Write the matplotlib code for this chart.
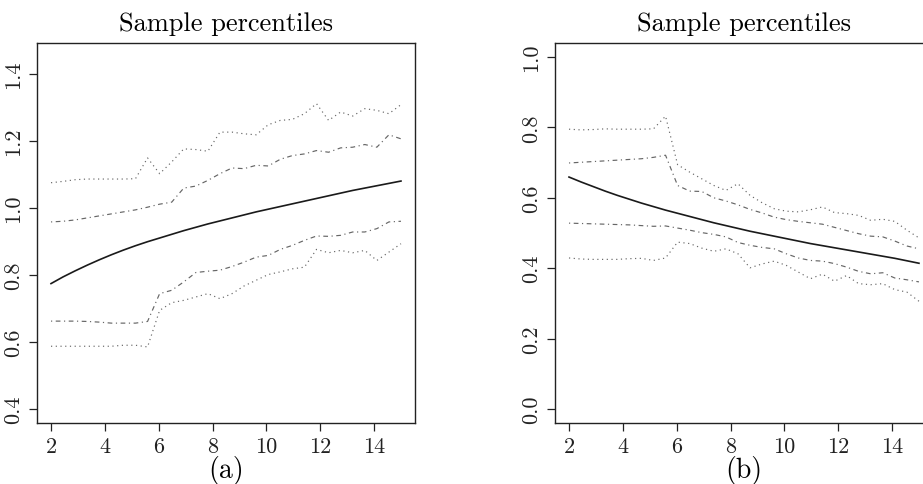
import numpy as np
import matplotlib
matplotlib.use("Agg")
import matplotlib.pyplot as plt

plt.rcParams["font.family"] = "serif"
plt.rcParams["font.serif"] = ["cmr10", "DejaVu Serif"]
plt.rcParams["axes.formatter.use_mathtext"] = True
plt.rcParams["mathtext.fontset"] = "cm"

# common x grid (30 evaluation points between 2 and 15)
x = np.linspace(2, 15, 30)

# panel (a)
a_upper_dot = [1.075, 1.079, 1.084, 1.086, 1.086, 1.086, 1.086, 1.087, 1.149, 1.102,
               1.137, 1.176, 1.174, 1.169, 1.226, 1.226, 1.221, 1.218, 1.248, 1.261,
               1.264, 1.281, 1.311, 1.261, 1.286, 1.274, 1.296, 1.291, 1.281, 1.308]
a_upper_dd = [0.958, 0.960, 0.964, 0.970, 0.976, 0.982, 0.988, 0.994, 1.002, 1.011,
              1.017, 1.059, 1.065, 1.082, 1.102, 1.119, 1.117, 1.127, 1.125, 1.145,
              1.156, 1.161, 1.171, 1.166, 1.179, 1.181, 1.189, 1.181, 1.218, 1.206]
a_mid = [0.774, 0.794, 0.812, 0.829, 0.845, 0.860, 0.874, 0.887, 0.899, 0.910,
         0.921, 0.932, 0.942, 0.952, 0.961, 0.970, 0.979, 0.988, 0.996, 1.004,
         1.012, 1.020, 1.028, 1.036, 1.044, 1.052, 1.059, 1.066, 1.073, 1.080]
a_lower_dd = [0.662, 0.662, 0.662, 0.661, 0.659, 0.656, 0.656, 0.656, 0.661, 0.744,
              0.754, 0.779, 0.807, 0.811, 0.814, 0.825, 0.838, 0.853, 0.858, 0.876,
              0.888, 0.903, 0.916, 0.915, 0.918, 0.928, 0.928, 0.938, 0.958, 0.960]
a_lower_dot = [0.587, 0.587, 0.587, 0.587, 0.587, 0.587, 0.590, 0.590, 0.585, 0.694,
               0.717, 0.724, 0.734, 0.744, 0.729, 0.744, 0.767, 0.784, 0.801, 0.809,
               0.818, 0.823, 0.876, 0.866, 0.873, 0.866, 0.873, 0.843, 0.868, 0.893]

# panel (b)
b_upper_dot = [0.795, 0.793, 0.794, 0.796, 0.795, 0.795, 0.795, 0.796, 0.832, 0.694,
               0.673, 0.654, 0.635, 0.621, 0.640, 0.607, 0.586, 0.569, 0.562, 0.560,
               0.566, 0.574, 0.558, 0.555, 0.550, 0.536, 0.539, 0.533, 0.508, 0.486]
b_upper_dd = [0.699, 0.701, 0.703, 0.705, 0.707, 0.709, 0.711, 0.715, 0.721, 0.635,
              0.619, 0.618, 0.600, 0.591, 0.580, 0.567, 0.557, 0.545, 0.538, 0.533,
              0.529, 0.525, 0.516, 0.507, 0.498, 0.491, 0.489, 0.477, 0.463, 0.455]
b_mid = [0.659, 0.645, 0.632, 0.619, 0.607, 0.596, 0.585, 0.575, 0.565, 0.556,
         0.547, 0.538, 0.529, 0.521, 0.513, 0.505, 0.498, 0.491, 0.484, 0.477,
         0.470, 0.464, 0.458, 0.452, 0.446, 0.440, 0.434, 0.428, 0.421, 0.414]
b_lower_dd = [0.528, 0.527, 0.526, 0.525, 0.524, 0.523, 0.521, 0.519, 0.520, 0.514,
              0.508, 0.501, 0.496, 0.489, 0.473, 0.465, 0.459, 0.455, 0.441, 0.429,
              0.422, 0.420, 0.413, 0.403, 0.391, 0.384, 0.387, 0.372, 0.367, 0.361]
b_lower_dot = [0.429, 0.426, 0.425, 0.425, 0.425, 0.427, 0.428, 0.422, 0.429, 0.474,
               0.470, 0.457, 0.448, 0.455, 0.441, 0.401, 0.412, 0.420, 0.408, 0.389,
               0.370, 0.383, 0.363, 0.379, 0.356, 0.353, 0.356, 0.339, 0.332, 0.306]

xticks = [2, 4, 6, 8, 10, 12, 14]
a_yticks = [0.4, 0.6, 0.8, 1.0, 1.2, 1.4]
b_yticks = [0.0, 0.2, 0.4, 0.6, 0.8, 1.0]

dotdash = (0, (1, 3, 4, 3))
dotted = (0, (1, 3))

fig = plt.figure(figsize=(9.23, 4.85), dpi=100)
ax1 = fig.add_axes([0.0401, 0.1258, 0.4095, 0.7835])
ax2 = fig.add_axes([0.6013, 0.1258, 0.4095, 0.7835])


def draw(ax, up_dot, up_dd, mid, lo_dd, lo_dot, ylo, yhi, yticks, label):
    ax.plot(x, up_dot, color="#666666", lw=0.85, ls=dotted)
    ax.plot(x, up_dd, color="#666666", lw=0.85, ls=dotdash)
    ax.plot(x, mid, color="#1a1a1a", lw=1.2, ls="-")
    ax.plot(x, lo_dd, color="#666666", lw=0.85, ls=dotdash)
    ax.plot(x, lo_dot, color="#666666", lw=0.85, ls=dotted)
    pad = 0.04 * (yhi - ylo)
    ax.set_ylim(ylo - pad, yhi + pad)
    ax.set_xlim(2 - 0.52, 15 + 0.52)
    ax.set_xticks(xticks)
    ax.set_xticklabels([str(t) for t in xticks])
    ax.set_yticks(yticks)
    ax.set_yticklabels(["%.1f" % t for t in yticks], rotation=90, va="center")
    ax.tick_params(direction="out", length=6, width=0.9, labelsize=16,
                   colors="#222222", pad=4)
    for s in ax.spines.values():
        s.set_linewidth(1.0)
        s.set_color("#222222")
    ax.set_title("Sample percentiles", fontsize=19, pad=9)
    ax.set_xlabel(label, fontsize=20, labelpad=-1)


draw(ax1, a_upper_dot, a_upper_dd, a_mid, a_lower_dd, a_lower_dot,
     0.4, 1.45, a_yticks, "(a)")
draw(ax2, b_upper_dot, b_upper_dd, b_mid, b_lower_dd, b_lower_dot,
     0.0, 1.0, b_yticks, "(b)")

fig.savefig("out.png", dpi=100)
